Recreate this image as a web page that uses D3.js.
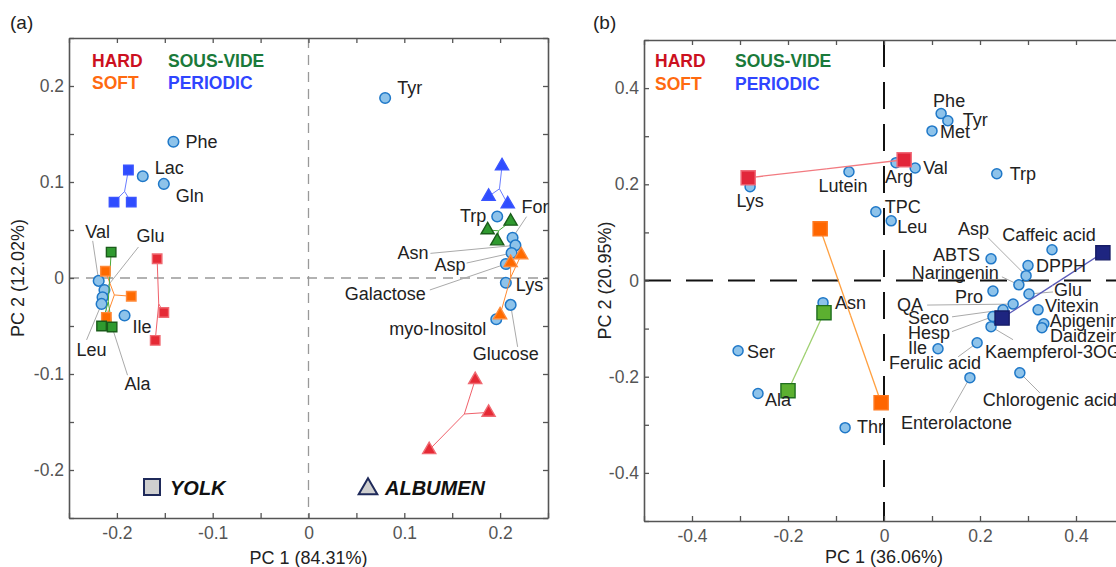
<!DOCTYPE html>
<html>
<head>
<meta charset="utf-8">
<script src="https://cdn.jsdelivr.net/npm/d3@7"></script>
<style>
  body { margin: 0; background: #fff; }
  svg { display: block; font-family: "Liberation Sans", Arial, sans-serif; }
</style>
</head>
<body>
<svg id="chart" width="1116" height="567"></svg>
<script>
// ---- data ----
const treatments = ["HARD", "SOFT", "SOUS-VIDE", "PERIODIC"];

// panel (a): amino acids / sugars, whole PCA of yolk + albumen
const ticksA = [-0.25, -0.2, -0.15, -0.1, -0.05, 0, 0.05, 0.1, 0.15, 0.2, 0.25];
const labelTicksA = [-0.2, -0.1, 0, 0.1, 0.2];

const loadingsA = [
  {name: "Tyr", pc1: 0.080, pc2: 0.1875},
  {name: "Phe", pc1: -0.141, pc2: 0.142},
  {name: "Lac", pc1: -0.173, pc2: 0.106},
  {name: "Gln", pc1: -0.151, pc2: 0.098},
  {name: "Val", pc1: -0.219, pc2: -0.003},
  {name: "Glu", pc1: -0.213, pc2: -0.0125},
  {name: "Ala", pc1: -0.215, pc2: -0.020},
  {name: "Leu", pc1: -0.216, pc2: -0.027},
  {name: "Ile", pc1: -0.192, pc2: -0.039},
  {name: "Trp", pc1: 0.197, pc2: 0.064},
  {name: "For", pc1: 0.213, pc2: 0.042},
  {name: "Asn", pc1: 0.216, pc2: 0.034},
  {name: "Asp", pc1: 0.212, pc2: 0.026},
  {name: "Galactose", pc1: 0.206, pc2: 0.0146},
  {name: "Lys", pc1: 0.206, pc2: -0.005},
  {name: "Glucose", pc1: 0.211, pc2: -0.028},
  {name: "myo-Inositol", pc1: 0.196, pc2: -0.043}
];

const yolkScoresA = [
  {group: "HARD", pts: [[-0.158, 0.020], [-0.151, -0.036], [-0.160, -0.065]]},
  {group: "SOFT", pts: [[-0.212, 0.007], [-0.185, -0.019], [-0.211, -0.041]]},
  {group: "SOUS-VIDE", pts: [[-0.206, 0.027], [-0.216, -0.050], [-0.205, -0.051]]},
  {group: "PERIODIC", pts: [[-0.188, 0.1125], [-0.203, 0.079], [-0.185, 0.079]]}
];

const albumenScoresA = [
  {group: "HARD", pts: [[0.174, -0.106], [0.188, -0.140], [0.126, -0.179]]},
  {group: "SOFT", pts: [[0.222, 0.024], [0.211, 0.016], [0.200, -0.0385]]},
  {group: "SOUS-VIDE", pts: [[0.187, 0.050], [0.211, 0.059], [0.197, 0.0385]]},
  {group: "PERIODIC", pts: [[0.202, 0.1167], [0.188, 0.085], [0.208, 0.077]]}
];

// panel (b): yolk metabolites, antioxidants, phenolics
const ticksB = [-0.5, -0.4, -0.3, -0.2, -0.1, 0, 0.1, 0.2, 0.3, 0.4, 0.5];
const labelTicksB = [-0.4, -0.2, 0, 0.2, 0.4];

const loadingsB = [
  {name: "Lys", pc1: -0.279, pc2: 0.195},
  {name: "Lutein", pc1: -0.073, pc2: 0.226},
  {name: "Arg", pc1: 0.025, pc2: 0.245},
  {name: "Val", pc1: 0.065, pc2: 0.234},
  {name: "Phe", pc1: 0.119, pc2: 0.347},
  {name: "Tyr", pc1: 0.133, pc2: 0.332},
  {name: "Met", pc1: 0.100, pc2: 0.311},
  {name: "TPC", pc1: -0.017, pc2: 0.143},
  {name: "Leu", pc1: 0.015, pc2: 0.124},
  {name: "Trp", pc1: 0.235, pc2: 0.222},
  {name: "Caffeic acid", pc1: 0.350, pc2: 0.064},
  {name: "DPPH", pc1: 0.300, pc2: 0.031},
  {name: "Asp", pc1: 0.296, pc2: 0.010},
  {name: "ABTS", pc1: 0.223, pc2: 0.045},
  {name: "Naringenin", pc1: 0.281, pc2: -0.009},
  {name: "Glu", pc1: 0.302, pc2: -0.028},
  {name: "Pro", pc1: 0.227, pc2: -0.022},
  {name: "QA", pc1: 0.269, pc2: -0.049},
  {name: "Seco", pc1: 0.248, pc2: -0.061},
  {name: "Hesp", pc1: 0.227, pc2: -0.075},
  {name: "Kaempferol-3OG", pc1: 0.223, pc2: -0.096},
  {name: "Vitexin", pc1: 0.321, pc2: -0.061},
  {name: "Apigenin", pc1: 0.333, pc2: -0.090},
  {name: "Daidzein", pc1: 0.329, pc2: -0.098},
  {name: "Ile", pc1: 0.1125, pc2: -0.142},
  {name: "Ferulic acid", pc1: 0.194, pc2: -0.1295},
  {name: "Enterolactone", pc1: 0.179, pc2: -0.202},
  {name: "Chlorogenic acid", pc1: 0.283, pc2: -0.192},
  {name: "Asn", pc1: -0.127, pc2: -0.046},
  {name: "Ser", pc1: -0.304, pc2: -0.146},
  {name: "Ala", pc1: -0.2625, pc2: -0.235},
  {name: "Thr", pc1: -0.081, pc2: -0.306}
];

const scoresB = [
  {group: "HARD", pts: [[-0.283, 0.2135], [0.042, 0.251]]},
  {group: "SOFT", pts: [[-0.133, 0.1075], [-0.006, -0.254]]},
  {group: "SOUS-VIDE", pts: [[-0.125, -0.067], [-0.200, -0.229]]},
  {group: "PERIODIC", pts: [[0.246, -0.078], [0.456, 0.0576]]}
];

// ---- label placement (pixel offsets from the point: dx, dy, anchor, leader start) ----
const labelPosA = {
  "Tyr": [12, -10, "start"], "Phe": [12, 0, "start"], "Lac": [12, -9, "start"], "Gln": [12, 12, "start"],
  "Val": [-1, -49, "middle", -6, -40], "Glu": [32, -54, "start", 34, -43],
  "Ala": [22, 86, "start", 25, 78], "Leu": [-25, 46, "start", -15, 36], "Ile": [8, 11, "start"],
  "Trp": [-11, -1, "end"], "For": [9, -31, "start", 14, -21], "Asn": [-87, 7, "end", -85, 8],
  "Asp": [-46, 12, "end", -45, 10], "Galactose": [-80, 30, "end", -76, 26], "Lys": [10, 2, "start"],
  "Glucose": [-38, 49, "start", 7, 42], "myo-Inositol": [-10, 9, "end"]
};

const labelPosB = {
  "Lys": [0, 14, "middle"], "Lutein": [-6, 14, "middle"], "Arg": [-11, 14, "start"], "Val": [8, 0, "start"],
  "Phe": [-8, -13, "start"], "Tyr": [15, -1, "start"], "Met": [8, 1, "start"], "TPC": [9, -5, "start"],
  "Leu": [6, 6, "start"], "Trp": [13, 0, "start"], "Caffeic acid": [-3, -15, "middle"], "DPPH": [8, 0, "start"],
  "Asp": [-37, -47, "end", -38, -38], "ABTS": [-11, -4, "end"], "Naringenin": [-20, -12, "end", -17, -8],
  "Glu": [25, -4, "start", 24, -2], "Pro": [-10, 6, "end"], "QA": [-90, 1, "end", -86, 1],
  "Seco": [-54, 8, "end", -51, 7], "Hesp": [-43, 16, "end", -41, 15],
  "Kaempferol-3OG": [-6, 25, "start", 22, 13], "Vitexin": [7, -4, "start"], "Apigenin": [6, -3, "start"],
  "Daidzein": [8, 8, "start"], "Ile": [-11, -1, "end"], "Ferulic acid": [4, 20, "end", -19, 14],
  "Enterolactone": [-69, 45, "start", -20, 35], "Chlorogenic acid": [-37, 27, "start", 20, 20],
  "Asn": [12, 0, "start"], "Ser": [9, 1, "start"], "Ala": [7, 6, "start"], "Thr": [12, -1, "start"]
};

// ---- styles ----
const legendColor = {"HARD": "#cc1020", "SOFT": "#ff6a10", "SOUS-VIDE": "#1a7a3a", "PERIODIC": "#2f45ff"};
const markA = {
  "HARD": {fill: "#e52a35", stroke: "#f06a72", line: "#f0606a"},
  "SOFT": {fill: "#ff6a00", stroke: "#ff8a3a", line: "#ff8a30"},
  "SOUS-VIDE": {fill: "#2f9a2f", stroke: "#1a5c1a", line: "#4aaa3a"},
  "PERIODIC": {fill: "#2f4dff", stroke: "#3a55ff", line: "#6a7dff"}
};
const markB = {
  "HARD": {fill: "#e2263a", stroke: "#f06a78", line: "#f27a80"},
  "SOFT": {fill: "#ff6600", stroke: "#ff7a20", line: "#ffa040"},
  "SOUS-VIDE": {fill: "#5cb030", stroke: "#1f6e1f", line: "#9ed070"},
  "PERIODIC": {fill: "#1e2580", stroke: "#161c66", line: "#5a5ab8"}
};
const font = '"Liberation Sans", Arial, sans-serif';
const svg = d3.select("#chart");

function drawPanel(p) {
  const x = d3.scaleLinear().domain(p.xDomain).range([p.left, p.right]);
  const y = d3.scaleLinear().domain(p.yDomain).range([p.bottom, p.top]);
  const g = svg.append("g");
  const fmt = d => p.labelTicks.some(m => Math.abs(m - d) < 1e-9) ? String(Math.round(d * 10) / 10) : "";

  // zero lines
  g.append("line").attr("x1", x(0)).attr("x2", x(0)).attr("y1", p.top).attr("y2", p.bottom)
    .attr("stroke", p.zero.color).attr("stroke-width", p.zero.width).attr("stroke-dasharray", p.zero.dash);
  g.append("line").attr("x1", p.left).attr("x2", p.right).attr("y1", y(0)).attr("y2", y(0))
    .attr("stroke", p.zero.color).attr("stroke-width", p.zero.width).attr("stroke-dasharray", p.zero.dash);

  // axes (ticks point inward)
  const axes = [
    [d3.axisBottom(x).tickFormat(fmt), `translate(0,${p.bottom})`],
    [d3.axisTop(x).tickFormat(""), `translate(0,${p.top})`],
    [d3.axisLeft(y).tickFormat(fmt), `translate(${p.left},0)`],
    [d3.axisRight(y).tickFormat(""), `translate(${p.right},0)`]
  ];
  axes.forEach(([ax, tr], i) => {
    const a = g.append("g").attr("transform", tr)
      .call(ax.tickValues(p.ticks).tickSize(-5).tickSizeOuter(0).tickPadding(i === 0 ? 9 : 5));
    a.select(".domain").attr("stroke", "#555").attr("stroke-width", 1.6);
    a.selectAll(".tick line").attr("stroke", "#555").attr("stroke-width", 1.3);
    a.selectAll(".tick text").attr("fill", "#555").attr("font-size", 17.5).attr("font-family", font);
  });

  // leader lines
  const lead = p.loadings.filter(d => p.labelPos[d.name] && p.labelPos[d.name].length > 3);
  g.append("g").selectAll("line").data(lead).join("line")
    .attr("x1", d => x(d.pc1) + p.labelPos[d.name][3])
    .attr("y1", d => y(d.pc2) + p.labelPos[d.name][4])
    .attr("x2", d => x(d.pc1)).attr("y2", d => y(d.pc2))
    .attr("stroke", "#aaa").attr("stroke-width", 1);

  // loadings
  g.append("g").selectAll("circle").data(p.loadings).join("circle")
    .attr("cx", d => x(d.pc1)).attr("cy", d => y(d.pc2)).attr("r", p.r)
    .attr("fill", "#8ec3ea").attr("stroke", "#1f78c8").attr("stroke-width", 1.5);

  // score groups: spokes from the group centroid
  p.scoreSets.forEach(set => {
    set.data.forEach(s => {
      const cx = d3.mean(s.pts, d => d[0]), cy = d3.mean(s.pts, d => d[1]);
      const st = p.marks[s.group];
      g.append("g").selectAll("line").data(s.pts).join("line")
        .attr("x1", x(cx)).attr("y1", y(cy))
        .attr("x2", d => x(d[0])).attr("y2", d => y(d[1]))
        .attr("stroke", st.line).attr("stroke-width", p.lineW);
    });
  });
  p.scoreSets.forEach(set => {
    set.data.forEach(s => {
      const st = p.marks[s.group];
      g.append("g").selectAll("path").data(s.pts).join("path")
        .attr("d", d3.symbol(set.symbol, set.size))
        .attr("transform", d => `translate(${x(d[0])},${y(d[1])})`)
        .attr("fill", st.fill).attr("stroke", st.stroke).attr("stroke-width", 1.4);
    });
  });

  // labels
  g.append("g").selectAll("text").data(p.loadings).join("text")
    .attr("x", d => x(d.pc1) + p.labelPos[d.name][0])
    .attr("y", d => y(d.pc2) + p.labelPos[d.name][1])
    .attr("dy", "0.35em")
    .attr("text-anchor", d => p.labelPos[d.name][2])
    .attr("font-size", 18).attr("fill", "#222").attr("font-family", font)
    .text(d => d.name);

  // treatment legend
  const lg = g.append("g").attr("font-weight", "bold").attr("font-size", 17.5).attr("font-family", font);
  treatments.forEach((t, i) => {
    lg.append("text")
      .attr("x", p.legend.x + (i >= 2 ? p.legend.colGap : 0))
      .attr("y", p.legend.y + (i % 2) * p.legend.rowGap)
      .attr("dy", "0.35em").attr("fill", legendColor[t]).text(t);
  });

  // axis titles and panel tag
  g.append("text").attr("x", x(0)).attr("y", p.xTitleY)
    .attr("text-anchor", "middle").attr("font-size", 18).attr("fill", "#222").attr("font-family", font)
    .text(p.xTitle);
  g.append("text").attr("transform", `translate(${p.yTitleX},${(p.top + p.bottom) / 2}) rotate(-90)`)
    .attr("text-anchor", "middle").attr("dy", "0.35em").attr("font-size", 18).attr("fill", "#222")
    .attr("font-family", font).text(p.yTitle);
  g.append("text").attr("x", p.tag.x).attr("y", p.tag.y).attr("font-size", 19).attr("fill", "#222")
    .attr("font-family", font).text(p.tag.text);
  return {x, y, g};
}

const a = drawPanel({
  xDomain: [-0.25, 0.25], yDomain: [-0.25, 0.25],
  left: 69, right: 548, top: 38, bottom: 518,
  ticks: ticksA, labelTicks: labelTicksA,
  zero: {color: "#999", width: 1.3, dash: "10,7"},
  loadings: loadingsA, labelPos: labelPosA, r: 5.3,
  scoreSets: [
    {data: yolkScoresA, symbol: d3.symbolSquare, size: 90},
    {data: albumenScoresA, symbol: d3.symbolTriangle, size: 75}
  ],
  marks: markA, lineW: 1,
  legend: {x: 92, y: 61, colGap: 76, rowGap: 22},
  xTitle: "PC 1 (84.31%)", yTitle: "PC 2 (12.02%)",
  xTitleY: 564, yTitleX: 18,
  tag: {x: 10, y: 29, text: "(a)"}
});

// sample-type legend of panel (a)
const sl = a.g.append("g").attr("font-family", font);
sl.append("rect").attr("x", 144).attr("y", 479).attr("width", 16).attr("height", 16)
  .attr("fill", "#cfcfcf").attr("stroke", "#1f2a5a").attr("stroke-width", 2);
sl.append("text").attr("x", 170).attr("y", 488).attr("dy", "0.35em").attr("font-size", 20)
  .attr("font-weight", "bold").attr("font-style", "italic").attr("fill", "#111").text("YOLK");
sl.append("path").attr("d", d3.symbol(d3.symbolTriangle, 150)).attr("transform", "translate(368,489)")
  .attr("fill", "#cfcfcf").attr("stroke", "#1f2a5a").attr("stroke-width", 2);
sl.append("text").attr("x", 385).attr("y", 488).attr("dy", "0.35em").attr("font-size", 20)
  .attr("font-weight", "bold").attr("font-style", "italic").attr("fill", "#111").text("ALBUMEN");

drawPanel({
  xDomain: [-0.5, 0.5], yDomain: [-0.5, 0.5],
  left: 644, right: 1124, top: 40, bottom: 521,
  ticks: ticksB, labelTicks: labelTicksB,
  zero: {color: "#111", width: 2, dash: "27,15"},
  loadings: loadingsB, labelPos: labelPosB, r: 5,
  scoreSets: [{data: scoresB, symbol: d3.symbolSquare, size: 200}],
  marks: markB, lineW: 1.3,
  legend: {x: 655, y: 61, colGap: 80, rowGap: 23},
  xTitle: "PC 1 (36.06%)", yTitle: "PC 2 (20.95%)",
  xTitleY: 563, yTitleX: 605,
  tag: {x: 593, y: 29, text: "(b)"}
});
</script>
</body>
</html>
